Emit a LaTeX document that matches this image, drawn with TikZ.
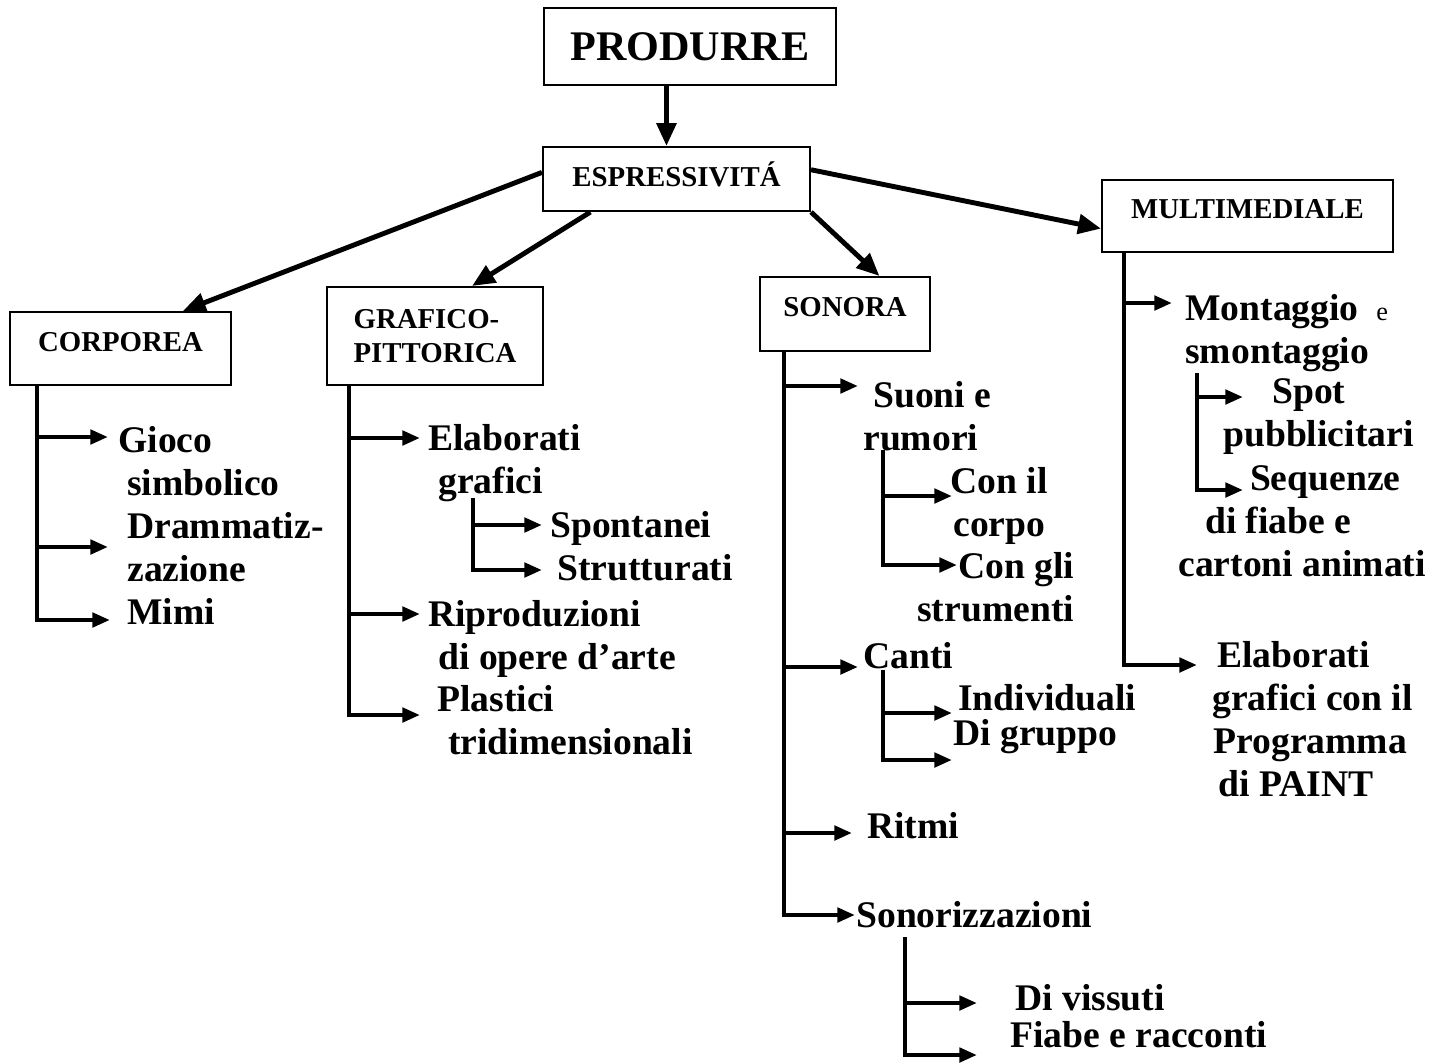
\documentclass[tikz,border=0pt]{standalone}
\usepackage{fontspec}
\setmainfont{Liberation Serif}
\usetikzlibrary{calc}
\usetikzlibrary{arrows.meta}

\tikzset{
  box/.style={draw, line width=1.2pt, inner sep=0pt, font=\bfseries\fontsize{16.4}{19.7}\selectfont},
  lift/.style={text height=11pt, text depth=8pt},
  item/.style={anchor=base west, align=left, inner sep=0pt, font=\bfseries\fontsize{21.4}{24.4}\selectfont},
  br/.style={line width=2.8pt},
  arr/.style={br, ->, >={Triangle[length=10pt,width=8pt]}},
  bigarr/.style={br, ->, >={Triangle[length=13pt,width=11pt]}},
}

\begin{document}
\begin{tikzpicture}[x=0.02cm, y=-0.02cm]
\useasboundingbox (0,0) rectangle (1445,1063);
% boxes
\node[box, font=\bfseries\fontsize{24}{29}\selectfont, minimum width=5.84cm, minimum height=1.54cm] (prod) at (690,46.5) {PRODURRE};
\node[box, text height=11pt, text depth=3pt, minimum width=5.34cm, minimum height=1.28cm] (espr) at (676.5,179) {ESPRESSIVITÁ};
\node[box, lift, minimum width=4.42cm, minimum height=1.46cm] (corp) at (120.5,348.5) {CORPOREA};
\node[box, align=left, minimum width=4.32cm, minimum height=1.96cm] (graf) at (435,336) {GRAFICO-\\PITTORICA};
\node[box, lift, minimum width=3.4cm, minimum height=1.48cm] (son) at (845,314) {SONORA};
\node[box, lift, minimum width=5.82cm, minimum height=1.44cm] (multi) at (1247.5,216) {MULTIMEDIALE};

% from the top
\coordinate (p1) at ($(prod.south west)!.42!(prod.south east)$);
\draw[bigarr] (p1) -- (p1 |- espr.north);
\draw[bigarr] ($(espr.north west)!.4!(espr.south west)$) -- ($(corp.north west)!.78!(corp.north east)$);
\draw[bigarr] ($(espr.south west)!.18!(espr.south east)$) -- ($(graf.north west)!.67!(graf.north east)$);
\draw[bigarr] (espr.south east) -- ($(son.north west)!.7!(son.north east)$);
\draw[bigarr] ($(espr.north east)!.36!(espr.south east)$) -- ($(multi.north west)!.67!(multi.south west)$);

% corporea (nodes sit on their last line)
\node[item] (gioco) at (118,495) {Gioco\\\hspace*{5pt}simbolico};
\node[item] (dramm) at (127,581) {Drammatiz-\\zazione};
\node[item] (mimi) at (127,624) {Mimi};
\coordinate (c1) at ($(corp.south west)+(28,0)$);
\draw[arr] (c1) |- ($(gioco.base west)+(-10,-58)$);
\draw[arr] (c1) |- ($(dramm.base west)+(-19,-34)$);
\draw[arr] (c1) |- ($(mimi.base west)+(-17,-4)$);

% grafico-pittorica
\node[item] (elab) at (428,493) {Elaborati\\\hspace*{5.7pt}grafici};
\node[item] (spont) at (550,537) {Spontanei};
\node[item] (strutt) at (557,580) {Strutturati};
\node[item] (ripr) at (428,669) {Riproduzioni\\\hspace*{5.7pt}di opere d’arte};
\node[item] (plast) at (437,754) {Plastici\\\hspace*{6.2pt}tridimensionali};
\coordinate (c2) at ($(graf.south west)+(23,0)$);
\draw[arr] (c2) |- ($(elab.base west)+(-8,-55)$);
\draw[arr] (c2) |- ($(ripr.base west)+(-8,-55)$);
\draw[arr] (c2) |- ($(plast.base west)+(-17,-39)$);
\coordinate (c2a) at ($(elab.base west)+(45,5)$);
\draw[arr] (c2a) |- ($(spont.base west)+(-8,-12)$);
\draw[arr] (c2a) |- ($(strutt.base west)+(-15,-10)$);

% sonora
\node[item] (suoni) at (863,450) {\hspace*{5.7pt}Suoni e\\rumori};
\node[item] (conil) at (950,536) {Con il\\\hspace*{1.7pt}corpo};
\node[item] (congli) at (917,621) {\hspace*{23.2pt}Con gli\\strumenti};
\node[item] (canti) at (863,668) {Canti};
\node[item] (indiv) at (958,710) {Individuali};
\node[item] (digr) at (953,745) {Di gruppo};
\node[item] (ritmi) at (867,838) {Ritmi};
\node[item] (sonor) at (856,927) {Sonorizzazioni};
\node[item] (divis) at (1015,1010) {Di vissuti};
\node[item] (fiabe) at (1010,1047) {Fiabe e racconti};
\coordinate (c3) at ($(son.south west)+(25,0)$);
\draw[arr] (c3) |- ($(suoni.base west)+(-5,-64)$);
\draw[arr] (c3) |- ($(canti.base west)+(-5,-1)$);
\draw[arr] (c3) |- ($(ritmi.base west)+(-15,-5)$);
\draw[arr] (c3) |- ($(sonor.base west)+(-1,-12)$);
\coordinate (c3a) at ($(suoni.base west)+(20,0)$);
\draw[arr] (c3a) |- ($(conil.base west)+(2,-40)$);
\draw[arr] (c3a) |- ($(congli.base west)+(40,-56)$);
\coordinate (c3b) at ($(canti.base west)+(20,2)$);
\draw[arr] (c3b) |- ($(indiv.base west)+(-6,3)$);
\draw[arr] (c3b) |- ($(digr.base west)+(-1,15)$);
\coordinate (c3c) at ($(sonor.base west)+(49,10)$);
\draw[arr] (c3c) |- ($(divis.base west)+(-38,-7)$);
\draw[arr] (c3c) |- ($(fiabe.base west)+(-33,8)$);

% multimediale
\node[item] (mont) at (1185,363) {Montaggio\hspace{10pt}{\mdseries\fontsize{15}{18}\selectfont e}\\smontaggio};
\node[item] (spot) at (1223,446) {\hspace*{27.8pt}Spot\\pubblicitari};
\node[item] (seq) at (1178,576) {\hspace*{40.8pt}Sequenze\\\hspace*{15.3pt}di fiabe e\\cartoni animati};
\node[item] (elab2) at (1212,796) {\hspace*{2.8pt}Elaborati\\grafici con il\\\hspace*{.6pt}Programma\\\hspace*{3.4pt}di PAINT};
\coordinate (c4) at ($(multi.south west)+(23,0)$);
\draw[arr] (c4) |- ($(mont.base west)+(-13,-60)$);
\draw[arr] (c4) |- ($(elab2.base west)+(-15,-131)$);
\coordinate (c4a) at ($(mont.base west)+(12,10)$);
\draw[arr] (c4a) |- ($(spot.base west)+(20,-49)$);
\draw[arr] (c4a) |- ($(seq.base west)+(65,-86)$);
\end{tikzpicture}
\end{document}
